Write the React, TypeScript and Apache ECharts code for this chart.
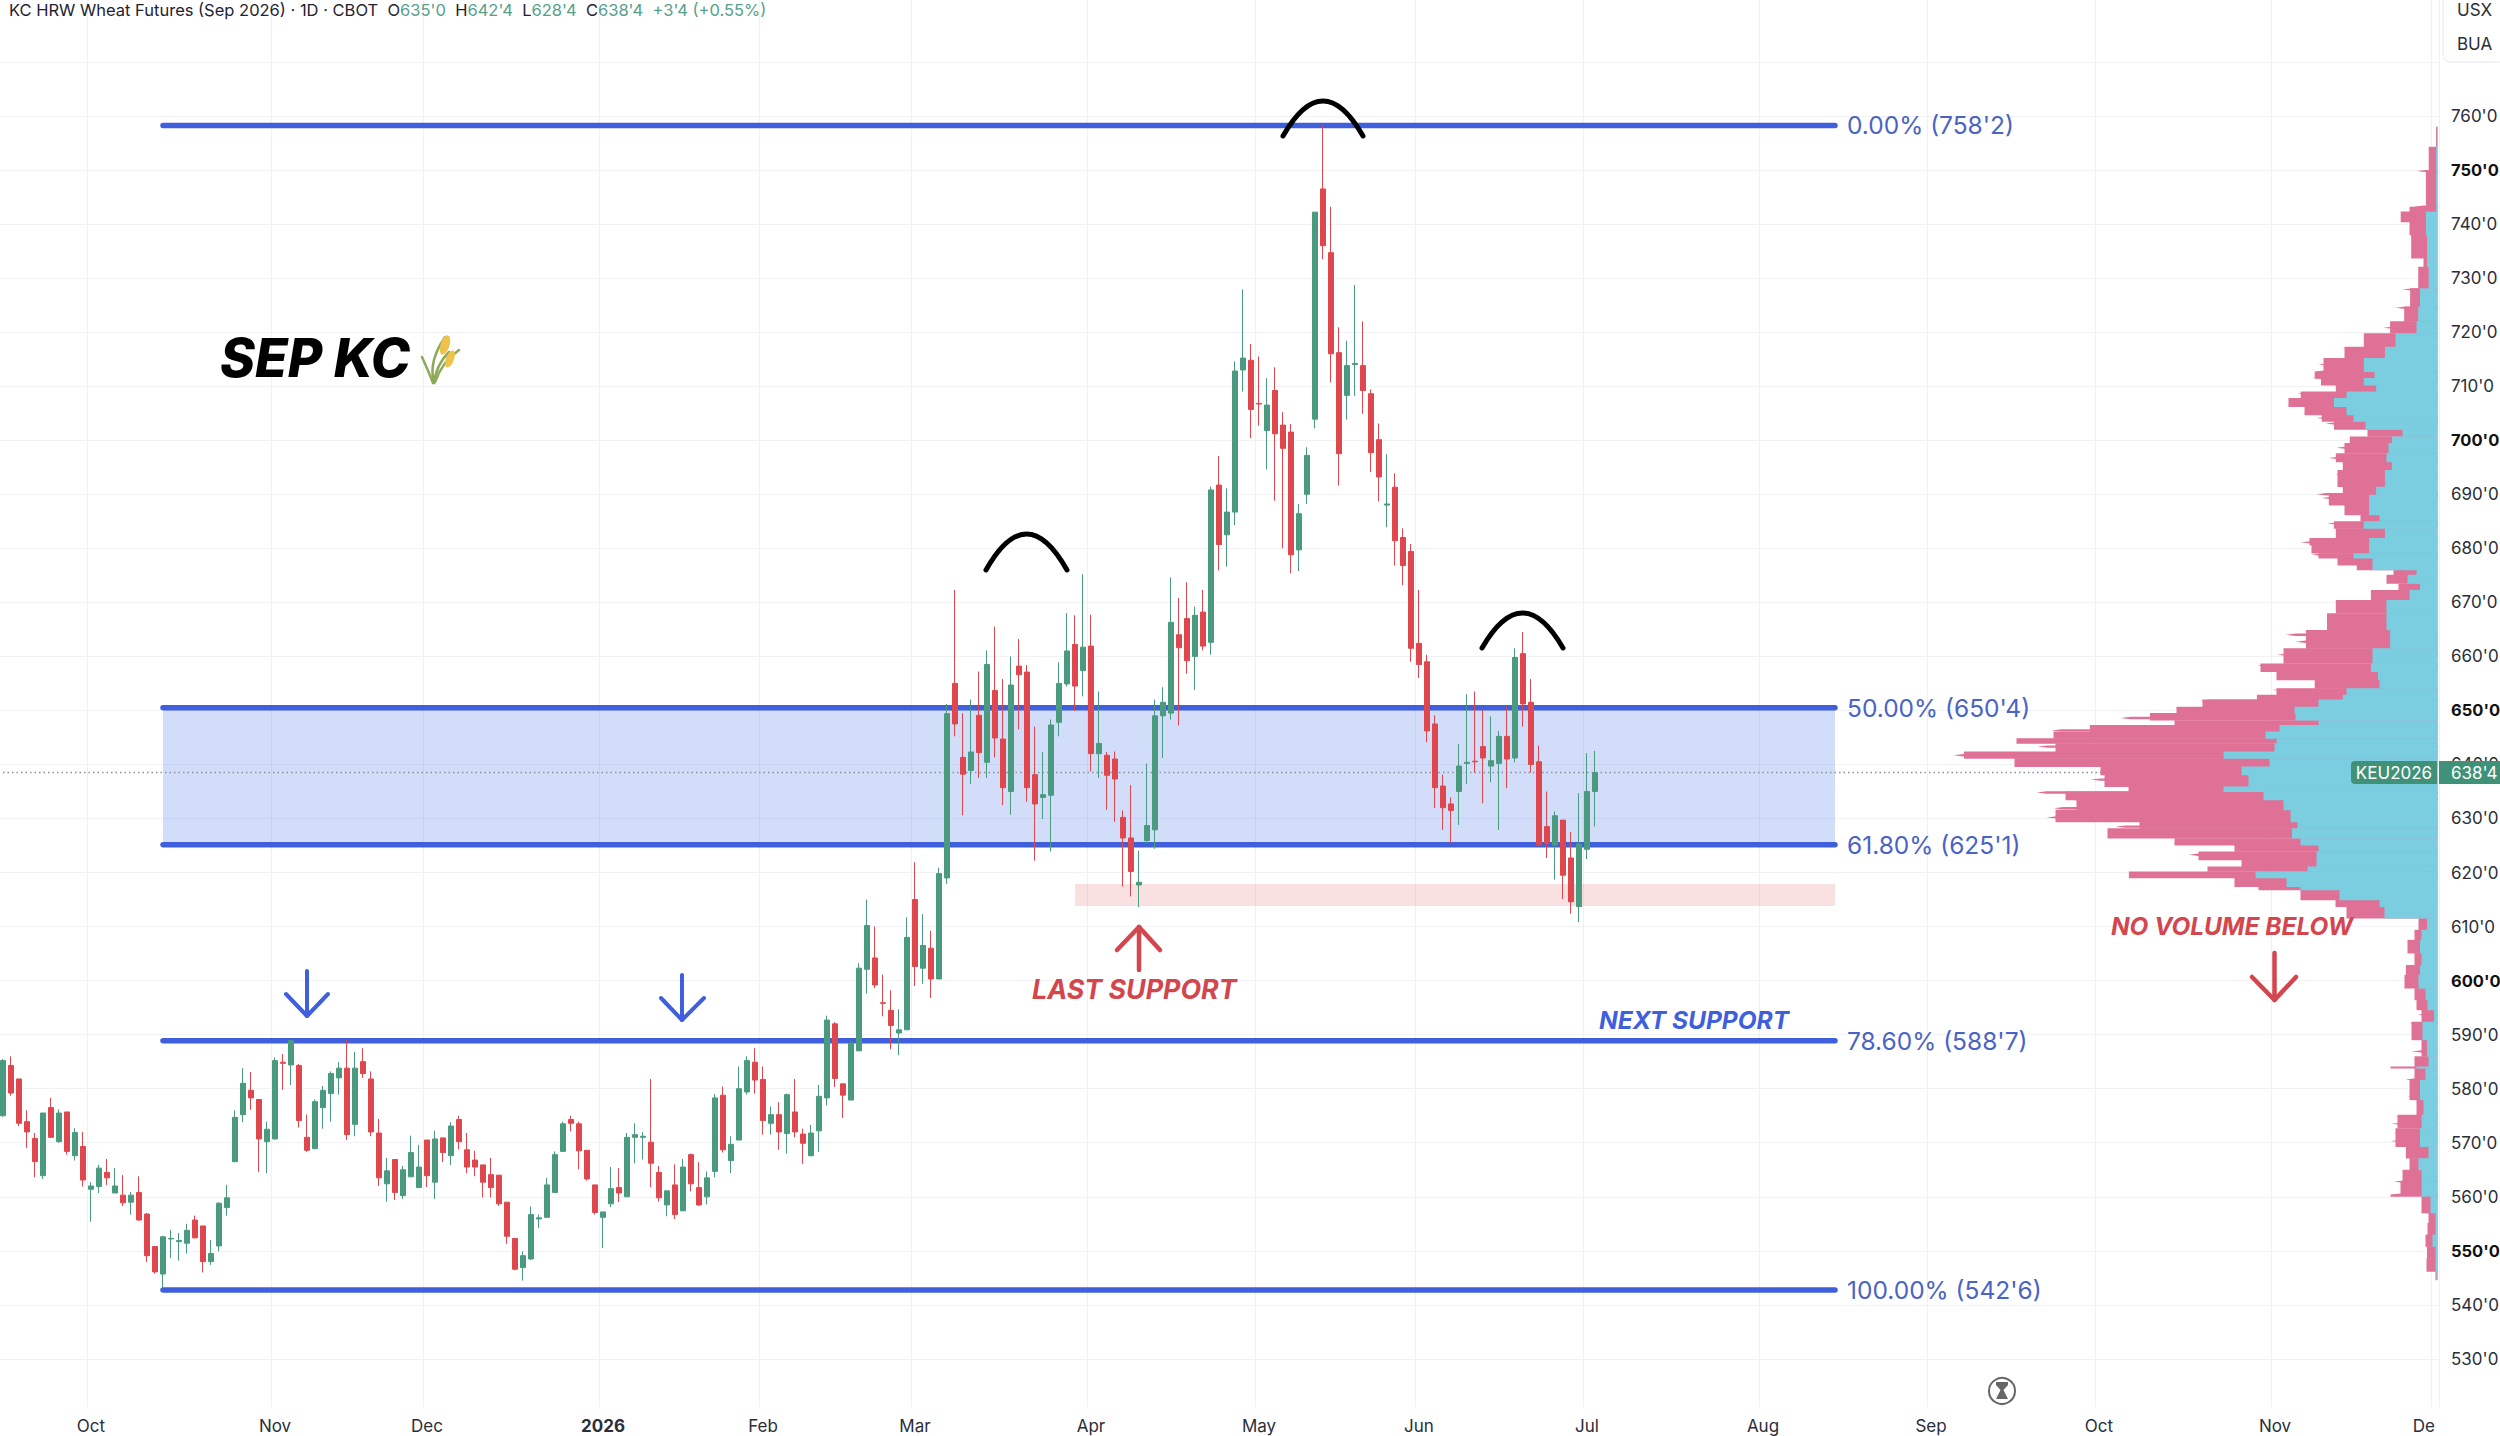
import React, { useEffect, useRef } from "react";
import * as echarts from "echarts";

// Candles: one entry per trading day
const opens = [575.0,584.3,581.8,573.9,570.8,563.9,576.5,570.2,575.7,567.6,569.3,561.4,561.9,564.5,560.7,560.3,559.0,560.8,556.8,550.8,545.7,552.2,551.7,551.4,555.7,554.6,548.0,550.9,558.0,566.5,575.2,579.7,578.0,570.2,570.7,584.9,584.4,584.3,571.0,568.9,576.5,579.1,582.0,583.8,573.4,585.0,581.8,571.8,562.4,566.9,560.2,563.7,561.7,570.5,562.7,570.9,567.6,574.3,568.7,566.8,565.9,564.1,564.0,559.0,552.3,546.9,548.5,555.9,556.2,560.8,568.4,574.3,573.5,568.6,562.2,556.2,558.7,561.7,560.0,571.0,571.0,570.1,564.5,558.5,562.2,557.4,567.8,561.7,560.0,564.7,578.8,566.7,570.5,579.4,584.9,581.7,573.6,575.2,571.7,575.7,571.6,567.6,572.2,578.3,592.0,580.9,577.9,587.0,602.1,604.2,595.9,594.5,590.3,590.9,615.0,602.3,606.0,600.3,619.0,655.0,641.3,638.9,649.1,640.4,653.7,644.7,635.0,658.2,657.1,638.1,633.9,634.3,647.8,654.9,662.2,657.4,661.9,642.0,641.7,641.0,630.2,626.4,617.7,625.9,627.9,649.0,649.5,664.0,667.0,660.0,668.2,662.6,691.7,682.5,686.7,713.0,714.8,706.8,701.8,709.2,702.8,701.5,679.7,690.0,703.9,746.5,734.7,716.2,708.3,714.0,713.8,708.6,700.1,688.0,691.3,682.0,679.4,662.4,659.0,647.5,636.0,632.7,635.0,640.2,640.6,643.3,639.7,640.2,645.2,641.2,660.5,651.5,640.5,628.5,625.1,629.7,622.7,613.7,624.3,635.0];
const closes = [585.2,579.2,573.6,572.0,566.5,575.5,571.0,575.5,568.4,571.9,563.1,562.0,565.3,563.5,562.0,558.9,560.3,555.7,549.1,546.1,552.6,552.3,551.9,553.8,552.4,548.0,549.5,558.8,559.8,574.7,581.0,578.3,570.7,572.5,585.2,584.7,588.9,574.1,568.6,577.6,579.7,582.8,583.8,571.5,583.8,582.8,572.0,563.5,564.8,560.8,565.0,568.2,565.5,563.9,570.7,568.2,573.1,570.2,565.5,565.5,562.7,561.7,558.7,552.7,546.6,549.1,556.7,556.1,562.2,567.8,573.5,573.6,568.5,563.3,557.1,557.2,561.5,560.7,571.0,571.5,571.2,566.2,559.8,561.1,556.7,565.5,562.4,558.5,563.5,578.3,568.7,569.7,580.0,585.2,581.6,574.1,575.2,572.0,578.9,572.0,569.9,571.8,578.6,592.7,581.9,578.8,588.4,602.3,610.2,599.2,595.8,591.7,590.9,608.0,602.6,606.5,600.3,619.8,649.4,647.5,638.2,642.3,642.2,658.5,644.9,635.7,654.7,656.6,635.7,632.7,634.4,647.3,655.0,661.0,654.5,661.7,642.0,643.9,638.0,637.3,626.4,620.2,618.2,628.7,649.0,651.5,666.3,661.6,659.2,667.6,661.9,690.8,680.7,686.7,712.8,715.2,705.7,706.7,706.5,701.2,698.5,678.8,686.4,697.2,742.2,736.0,716.0,697.5,713.8,714.2,709.2,697.7,693.2,688.2,681.4,676.8,661.5,658.5,646.2,635.7,632.0,631.5,639.7,640.4,640.5,641.2,640.7,645.2,641.0,659.8,651.2,640.0,625.1,625.4,630.5,619.5,614.6,625.3,635.0,638.5];
const highs = [585.5,586.0,581.8,576.0,571.8,575.5,578.3,576.2,575.7,572.7,572.0,562.7,565.9,567.0,565.3,564.0,560.9,563.8,557.0,550.9,552.8,553.9,553.3,555.0,556.5,554.6,552.0,559.0,562.2,576.0,583.8,583.1,578.0,573.9,585.8,586.4,588.9,584.6,575.2,578.0,580.5,583.2,584.9,589.0,586.8,587.5,583.2,574.4,567.2,566.9,565.7,571.3,569.6,570.5,572.2,570.9,573.8,575.0,571.8,568.5,565.9,567.2,564.0,559.0,552.3,549.9,558.2,556.7,563.5,568.4,573.9,575.0,573.9,568.6,562.2,557.2,565.5,565.3,571.8,573.6,572.0,581.8,565.7,561.1,566.0,567.0,568.0,566.4,564.7,579.0,580.4,571.2,584.1,586.0,587.5,584.1,576.7,577.5,579.1,581.8,572.6,573.3,580.7,593.5,592.3,580.9,588.9,603.2,615.0,610.0,601.1,598.2,594.7,611.7,621.9,612.3,609.2,620.9,651.2,672.3,649.5,652.0,657.2,661.1,665.5,655.8,660.0,663.2,658.4,647.0,642.3,648.3,658.9,668.0,667.6,675.2,667.7,653.5,642.3,642.4,631.5,636.2,624.0,640.2,652.0,654.3,674.6,670.8,673.7,669.2,672.3,691.4,697.1,691.1,714.6,727.9,717.8,715.5,711.5,713.5,705.2,703.0,688.2,698.7,742.2,758.25,743.2,720.9,718.4,728.7,722.0,709.4,703.1,697.4,693.9,683.7,680.8,672.3,660.3,649.1,638.1,633.9,643.8,653.0,653.5,650.1,648.9,646.2,650.7,661.5,664.5,655.8,643.5,635.0,631.3,629.7,627.5,634.7,642.1,642.5];
const lows = [574.8,578.7,573.1,569.0,563.6,563.3,570.9,570.0,567.8,566.7,561.9,555.4,560.7,562.2,560.7,558.3,556.7,555.6,547.9,545.8,543.1,548.7,548.2,549.5,552.3,546.0,547.4,549.9,556.5,566.4,573.8,576.1,564.6,564.4,570.6,579.8,580.7,572.8,568.3,568.8,572.6,573.9,578.9,570.5,571.2,582.0,571.2,562.0,559.1,559.4,559.6,563.6,561.6,561.8,559.6,566.4,565.9,568.8,564.4,563.8,559.9,559.9,558.3,551.3,546.4,544.5,548.3,554.2,556.2,560.7,568.4,572.1,565.1,563.0,556.7,550.5,558.1,559.0,560.0,566.2,566.9,561.8,559.1,556.4,555.9,557.4,561.0,558.3,558.6,563.6,568.2,564.4,570.5,578.9,579.1,571.5,571.5,568.7,568.0,571.0,566.1,567.5,568.3,576.9,580.3,574.6,577.9,587.0,597.6,598.6,593.4,587.3,586.2,590.9,599.0,599.4,596.8,600.3,617.9,645.2,630.6,636.4,637.5,637.5,641.3,632.5,630.7,646.5,633.1,622.2,629.9,623.9,645.2,654.4,649.9,652.6,638.7,637.5,631.6,629.4,617.4,615.6,613.6,625.4,624.4,641.2,648.3,647.2,656.8,653.8,661.1,660.3,675.9,676.6,684.3,709.0,700.4,702.7,694.6,688.8,680.0,675.4,675.8,688.2,702.2,733.5,710.7,691.6,703.8,708.2,704.9,694.1,688.7,683.9,676.8,673.2,659.0,656.0,644.1,631.9,627.9,625.4,628.8,636.4,638.5,632.8,636.7,627.9,635.6,640.4,647.0,638.5,624.9,622.7,618.7,615.1,612.4,610.8,622.5,628.5];

// Month labels on the time axis, by bar number
const tickIndex = [11, 34, 53, 75, 95, 114, 136, 157, 177, 198, 220, 241, 262, 284, 304];
const tickLabels = ["Oct", "Nov", "Dec", "2026", "Feb", "Mar", "Apr", "May", "Jun", "Jul", "Aug", "Sep", "Oct", "Nov", "De"];
const barSlots = 305;

// Price axis
const priceLabels = [530, 540, 550, 560, 570, 580, 590, 600, 610, 620, 630, 640, 650, 660, 670, 680, 690, 700, 710, 720, 730, 740, 750, 760];
const priceGrid = [...priceLabels, 770];

// Fibonacci levels
const fibPrices = [758.25, 650.5, 625.125, 588.875, 542.75];
const fibLabels = ["0.00% (758'2)", "50.00% (650'4)", "61.80% (625'1)", "78.60% (588'7)", "100.00% (542'6)"];
const lastPrice = 638.5;
const supportZone = [617.9, 613.8];

// Volume profile: upper edge of each price band, total width, up part
const profileTops = [758,754.3,749.7,743.2,742.3,740.4,738,733.7,732.1,728.1,724.7,722,719.8,717.3,715.2,712.7,711.5,710.2,709,707.8,706.2,704.7,703.5,702,700.7,699.5,697.6,696,694.5,691.4,689.9,688,686.2,685,683.7,681.9,680.6,679.1,678.2,676.9,676,675.1,673.5,672.3,670.45,668,664.9,661.5,658.7,657.2,655.65,654.1,652.9,652,650.7,649.5,648.2,647.3,646.1,644.85,643.9,642.4,641.15,639.6,638.1,635.9,635,633.45,631.6,629.4,628.2,626.35,625.1,623.9,622.35,621.1,620.2,619,617.4,616.8,614.95,613.7,611.55,609.4,607.55,605.1,602.9,601.1,598.6,596.45,594.6,592.4,589.05,586,584.1,583.8,581.65,577.95,575.2,572.7,569.3,567.15,565,562.85,560.4,560.1,557,555.15,553,550.8,548.65,546.2,544.65];
const profileTotal = [1.5,8.8,11.6,28,36.8,28,26.3,14,19.3,27.4,33.3,47.4,73.7,93,114,122.8,116.5,101.7,136.8,149,133,115.7,103.5,70,87.7,93,101.7,94.7,100,94.7,108.7,93,77,103.5,101.7,128,126,119,100,80.7,44,51,39,66.6,101.7,110.5,131.5,154,177,161,122.8,161,180.6,235,261,287.6,263,347.6,384,421,382,473.5,423,337,333,309,372,361,382,298,330,263,203,239,196,230,308.6,203,179,137,102,91,19,23,30,23,31.6,33,23,21,16,26,16,23,47,23,28,21,40,42,31.6,28,35,37,47,16,9,10,12,10.5,11,2];
const profileUp = [0.7,1.4,1.4,1.4,11.6,11.6,10.5,10.5,8.8,17.5,19.3,21,42,52.6,73.7,63,73.7,61.4,91,103.5,91,84,72,35,45.6,49,51,45.6,52.6,61.4,68.4,68.4,58,73.7,52.6,68.4,68.4,84,65,65,21,30,17.5,28,51,51,47.4,65,66.6,59.6,58,91,94.7,119,143,142,119,158,172,161,163,214,168,196,189,214,174,154,147,140,145.6,137,119,121,121,130,182,151,137,98,58,53,10.5,16,17.5,16,17.5,19,12,10,3.5,15,10.5,9,21,12,17.5,14,16,17.5,9,19,16,16,16,7,2,2,5,2,2,1];
// Thin single-level spikes of the profile
const spikePrices = [749.8,743.2,727.9,724.5,720.8,719.2,717,714,712.7,711.5,708.7,706.5,704.1,703.1,698.6,696.7,693.6,690,689.3,684.6,681.1,678.8,664,662.7,660.3,658.3,653.8,651.8,650.4,648.6,647,646.3,644.5,643.3,641.7,640.2,639.8,637.2,634.8,633.6,631.9,630.2,628.5,626.8,623.3,619.8,593.7,592.1,586.9,581.7,578.6,574.9,573.5,571.8,570.3,562.8,560.4];
const spikeTotals = [21,24,35,42,54,73.7,95,119,123,125,140,151,121,112,101,109,102,121,116,110,137,126,152,142,160,180,165,237,262,317,349,386,421,400,484,423,382,347,401,372,384,391,322,330,249,309,20,28,26,32,30,42,46,44,47,44,47];

const GREEN = "#4A9A80";
const RED = "#DD474D";
const NOTE_RED = "#D4464E";
const BLUE = "#3F5FDC";
const FIB_TEXT = "#4A63C4";
const PINK = "#E07196";
const CYAN = "#7BCDE0";
const PRICE_MIN = 521.1;
const PRICE_MAX = 781.46;
const FONT = "Inter";

const categories = Array.from({ length: barSlots }, (_, i) => {
  const k = tickIndex.indexOf(i);
  return k >= 0 ? tickLabels[k] : "";
});
const candles = opens.map((o, i) => [o, closes[i], lows[i], highs[i]]);
const profile = profileTotal.map((t, i) => [profileTops[i], profileTops[i + 1], t, profileUp[i]]);
const spikes = spikeTotals.map((t, i) => [spikePrices[i], t]);

function stroke(color: string, lineWidth: number) {
  return { stroke: color, lineWidth, lineCap: "round", lineJoin: "round", fill: "none" };
}
function arc(x1: number, x2: number, yEnd: number, yPeak: number) {
  return {
    type: "bezierCurve", z: 100,
    shape: { x1, y1: yEnd, x2, y2: yEnd, cpx1: (x1 + x2) / 2, cpy1: 2 * yPeak - yEnd },
    style: stroke("#000000", 5),
  };
}
function arrow(x: number, yTail: number, yTip: number, xL: number, xR: number, yHead: number, color: string, w: number) {
  return [
    { type: "line", z: 100, shape: { x1: x, y1: yTail, x2: x, y2: yTip }, style: stroke(color, w) },
    { type: "polyline", z: 100, shape: { points: [[xL, yHead], [x, yTip], [xR, yHead]] }, style: stroke(color, w) },
  ];
}
function note(text: string, x: number, y: number, size: number, fill: string, weight = "bold", style = "italic", align = "left") {
  return {
    type: "text", z: 100, x, y,
    style: { text, fill, font: `${style} ${weight} ${size}px ${FONT}`, textAlign: align, textVerticalAlign: "middle" },
  };
}

const headerRich = {
  k: { fill: "#1f2330", color: "#1f2330", fontSize: 16.5, fontFamily: FONT },
  g: { fill: "#55A08A", color: "#55A08A", fontSize: 16.5, fontFamily: FONT },
};

const wheat = [
  { type: "bezierCurve", z: 100, shape: { x1: 434, y1: 383, cpx1: 428, cpy1: 362, x2: 445, y2: 337 }, style: stroke("#8DAA58", 2.5) },
  { type: "bezierCurve", z: 100, shape: { x1: 434, y1: 383, cpx1: 436, cpy1: 365, x2: 449, y2: 352 }, style: stroke("#8DAA58", 2.5) },
  { type: "bezierCurve", z: 100, shape: { x1: 433, y1: 383, cpx1: 428, cpy1: 370, x2: 422, y2: 357 }, style: stroke("#8DAA58", 2.5) },
  { type: "bezierCurve", z: 100, shape: { x1: 435, y1: 382, cpx1: 442, cpy1: 362, x2: 459, y2: 350 }, style: stroke("#8DAA58", 2.5) },
  { type: "ellipse", z: 101, x: 445, y: 345, rotation: -0.3, shape: { cx: 0, cy: 0, rx: 4.5, ry: 10 }, style: { fill: "#EFC24C" } },
  { type: "ellipse", z: 101, x: 450, y: 359, rotation: -0.35, shape: { cx: 0, cy: 0, rx: 4, ry: 9 }, style: { fill: "#EFC24C" } },
];

const graphicElements: any[] = [
  {
    type: "text", z: 100, x: 9, y: 10,
    style: {
      text: "{k|KC HRW Wheat Futures (Sep 2026) · 1D · CBOT  O}{g|635'0}{k|  H}{g|642'4}{k|  L}{g|628'4}{k|  C}{g|638'4}{g|  +3'4 (+0.55%)}",
      rich: headerRich, textVerticalAlign: "middle", font: `16.5px ${FONT}`,
    },
  },
  note("SEP KC", 220, 358, 53, "#000000", "800"),
  ...wheat,
  arc(986, 1067, 570, 534),
  arc(1283, 1363, 136, 101),
  arc(1482, 1563, 648, 613),
  ...arrow(307, 971, 1016, 286, 328, 994, BLUE, 4),
  ...arrow(682, 975, 1020, 661, 704, 998, BLUE, 4),
  ...arrow(1139, 970, 927, 1117, 1160, 950, NOTE_RED, 4.5),
  ...arrow(2274.5, 953, 1000, 2252, 2296, 977, NOTE_RED, 4.5),
  note("LAST SUPPORT", 1032, 989, 26.8, NOTE_RED),
  note("NEXT SUPPORT", 1599, 1020, 24.5, BLUE),
  note("NO VOLUME BELOW", 2111, 926, 24.4, NOTE_RED),
  { type: "rect", z: 100, shape: { x: 2351, y: 761, width: 86, height: 23, r: [4, 0, 0, 4] }, style: { fill: "#3F9278" } },
  { type: "rect", z: 100, shape: { x: 2439, y: 761, width: 61, height: 23 }, style: { fill: "#3F9278" } },
  note("KEU2026", 2394, 773, 17, "#FFFFFF", "normal", "normal", "center"),
  note("638'4", 2451, 773, 17, "#FFFFFF", "normal", "normal", "left"),
  { type: "rect", z: 99, shape: { x: 2443, y: -12, width: 80, height: 74, r: 8 }, style: { fill: "#FFFFFF", stroke: "#EEF0F5", lineWidth: 1.5 } },
  note("USX", 2457, 10, 17, "#2a2e39", "normal", "normal", "left"),
  note("BUA", 2457, 44, 17, "#2a2e39", "normal", "normal", "left"),
  { type: "circle", z: 100, shape: { cx: 2002, cy: 1391, r: 13 }, style: { fill: "#FFFFFF", stroke: "#666666", lineWidth: 2 } },
  {
    type: "polygon", z: 100,
    shape: { points: [[1996, 1382], [2008, 1382], [2008, 1385], [2003.5, 1390], [2008, 1399], [1996, 1399], [2000.5, 1390], [1996, 1385]] },
    style: { fill: "#666666" },
  },
];

const option: any = {
  animation: false,
  backgroundColor: "#FFFFFF",
  textStyle: { fontFamily: FONT },
  grid: [
    { left: -1, right: 61, top: 0, height: 1407, outerBoundsMode: "none" },
    { left: 1937.5, width: 500, top: 0, height: 1407, outerBoundsMode: "none" },
  ],
  xAxis: [
    {
      type: "category", data: categories, gridIndex: 0,
      axisLine: { show: false }, axisTick: { show: false },
      splitLine: {
        show: true, lineStyle: { color: "#EEF0F3", width: 1 },
        interval: (i: number) => tickIndex.includes(i),
      },
      axisLabel: {
        interval: (i: number) => tickIndex.includes(i),
        color: "#2a2e39", fontSize: 17, fontFamily: FONT, margin: 10, lineHeight: 18,
        showMaxLabel: true, alignMaxLabel: "right", hideOverlap: false,
        formatter: (v: string) => (v === "2026" ? `{b|${v}}` : v),
        rich: { b: { fontWeight: "bold", fontSize: 17, fontFamily: FONT, color: "#2a2e39" } },
      },
    },
    { type: "value", gridIndex: 1, min: 0, max: 500, inverse: true, show: false },
  ],
  yAxis: [
    {
      type: "value", position: "right", gridIndex: 0, min: PRICE_MIN, max: PRICE_MAX, scale: true,
      axisLine: { show: false },
      axisTick: { show: false, customValues: priceGrid },
      splitLine: { show: true, lineStyle: { color: "#F0F2F5", width: 1 } },
      axisLabel: {
        customValues: priceLabels, color: "#2a2e39", fontSize: 17, fontFamily: FONT, margin: 12,
        formatter: (v: number) => (v % 50 === 0 ? `{b|${v}'0}` : `${v}'0`),
        rich: { b: { fontWeight: "bold", fontSize: 16.5, fontFamily: FONT, color: "#111111" } },
      },
    },
    { type: "value", gridIndex: 1, min: PRICE_MIN, max: PRICE_MAX, show: false },
  ],
  series: [
    {
      type: "line", name: "Last price", z: 2, silent: true, showSymbol: false,
      data: [[0, lastPrice], [barSlots - 1, lastPrice]],
      lineStyle: { color: "#8A8F9C", width: 1.5, type: [1.5, 3] },
      markArea: {
        silent: true, z: 1,
        data: [
          [{ coord: [20, fibPrices[1]], itemStyle: { color: "rgba(60,110,235,0.23)" } }, { coord: [229, fibPrices[2]] }],
          [{ coord: [134, supportZone[0]], itemStyle: { color: "rgba(217,71,79,0.17)" } }, { coord: [229, supportZone[1]] }],
        ],
      },
    },
    ...fibPrices.map((p, k) => ({
      type: "line", name: fibLabels[k], z: 3, silent: true, showSymbol: false,
      data: [[20, p], [229, p]],
      lineStyle: { color: BLUE, width: 5.5, cap: "round" },
      endLabel: {
        show: true, formatter: fibLabels[k], distance: 12,
        color: FIB_TEXT, fontSize: 24.5, fontFamily: FONT,
      },
    })),
    {
      type: "candlestick", name: "KEU2026", z: 5, data: candles, barWidth: 6,
      itemStyle: { color: GREEN, color0: RED, borderColor: GREEN, borderColor0: RED, borderWidth: 1 },
    },
    {
      type: "custom", name: "Volume profile spikes", z: 4, silent: true,
      xAxisIndex: 1, yAxisIndex: 1, clip: false,
      data: spikes,
      encode: { x: 1, y: 0 },
      renderItem: (_: any, api: any) => {
        const p = api.value(0);
        const a = api.coord([api.value(1), p]);
        const c = api.coord([0, p]);
        const tip = 10;
        return {
          type: "polygon",
          shape: { points: [[a[0], a[1]], [a[0] + tip, a[1] - 1.2], [c[0], a[1] - 1.2], [c[0], a[1] + 1.2], [a[0] + tip, a[1] + 1.2]] },
          style: { fill: PINK },
        };
      },
    },
    {
      type: "custom", name: "Volume profile", z: 4, silent: true,
      xAxisIndex: 1, yAxisIndex: 1, clip: false,
      data: profile,
      encode: { x: 2, y: 0 },
      renderItem: (_: any, api: any) => {
        const top = api.value(0), bottom = api.value(1), total = api.value(2);
        const a = api.coord([total, top]);
        const c = api.coord([0, bottom]);
        return {
          type: "rect",
          shape: { x: a[0], y: a[1], width: c[0] - a[0], height: c[1] - a[1] + 0.4 },
          style: { fill: PINK },
        };
      },
    },
    {
      type: "custom", name: "Volume profile up", z: 4.5, silent: true,
      xAxisIndex: 1, yAxisIndex: 1, clip: false,
      data: profile,
      encode: { x: 3, y: 0 },
      renderItem: (_: any, api: any) => {
        const top = api.value(0), bottom = api.value(1), up = api.value(3);
        const a = api.coord([up, top]);
        const c = api.coord([0, bottom]);
        return {
          type: "rect",
          shape: { x: a[0], y: a[1], width: c[0] - a[0], height: c[1] - a[1] + 0.4 },
          style: { fill: CYAN },
        };
      },
    },
  ],
  graphic: { elements: graphicElements },
};

export default function App() {
  const ref = useRef<HTMLDivElement>(null);
  useEffect(() => {
    document.body.style.margin = "0";
    const chart = echarts.init(ref.current!, undefined, { renderer: "svg" });
    chart.setOption(option);
    return () => chart.dispose();
  }, []);
  return <div ref={ref} style={{ width: 2500, height: 1436, overflow: "hidden" }} />;
}
